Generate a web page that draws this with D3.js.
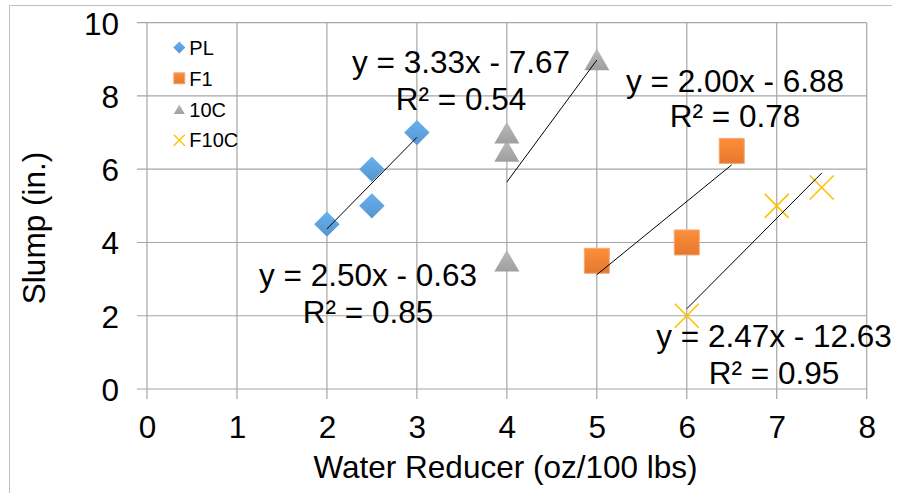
<!DOCTYPE html>
<html>
<head>
<meta charset="utf-8">
<script src="https://cdn.jsdelivr.net/npm/d3@7"></script>
<style>
  html, body { margin: 0; padding: 0; background: #fff; }
  svg { display: block; font-family: "Liberation Sans", Arial, sans-serif; }
</style>
</head>
<body>
<svg id="chart" width="901" height="493"></svg>
<script>
// Slump vs. water reducer dosage, four mixes with linear trendlines
const seriesNames = ["PL", "F1", "10C", "F10C"];
const seriesColors = ["#5B9BD5", "#ED7D31", "#A5A5A5", "#FFC000"];

const plX = [2, 2.5, 2.5, 3];
const plY = [4.5, 5, 6, 7];
const f1X = [5, 6, 6.5];
const f1Y = [3.5, 4, 6.5];
const c10X = [4, 4, 4, 5];
const c10Y = [3.5, 6.5, 7, 9];
const f10cX = [6, 7, 7.5];
const f10cY = [2, 5, 5.5];

// Trendline coefficients (y = slope * x + intercept) and R²
const slopes = [2.50, 2.00, 3.33, 2.47];
const intercepts = [-0.63, -6.88, -7.67, -12.63];
const rSquared = [0.85, 0.78, 0.54, 0.95];

const xTicks = [0, 1, 2, 3, 4, 5, 6, 7, 8];
const yTicks = [0, 2, 4, 6, 8, 10];

const seriesX = [plX, f1X, c10X, f10cX];
const seriesY = [plY, f1Y, c10Y, f10cY];

const svg = d3.select("#chart");
const plotLeft = 147, plotRight = 866.7, plotTop = 22.7, plotBottom = 389;

const x = d3.scaleLinear().domain([0, 8]).range([plotLeft, plotRight]);
const y = d3.scaleLinear().domain([0, 10]).range([plotBottom, plotTop]);

const gridColor = "#A6A6A6";
const fontSize = 31.5;

// chart frame
svg.append("path")
  .attr("d", `M9.5,493 V5.5 H891.7`)
  .attr("fill", "none").attr("stroke", "#BFBFBF").attr("stroke-width", 1);

// gradients for markers
const defs = svg.append("defs");
seriesColors.forEach((c, i) => {
  const g = defs.append("linearGradient").attr("id", "grad" + i)
    .attr("x1", 0).attr("y1", 0).attr("x2", 0).attr("y2", 1);
  g.append("stop").attr("offset", "0%").attr("stop-color", d3.color(c).brighter(0.35));
  g.append("stop").attr("offset", "100%").attr("stop-color", d3.color(c).darker(0.12));
});

// gridlines
svg.append("g").selectAll("line").data(xTicks).join("line")
  .attr("x1", d => x(d)).attr("x2", d => x(d))
  .attr("y1", plotTop).attr("y2", plotBottom + 10)
  .attr("stroke", gridColor).attr("stroke-width", 1.2);
svg.append("g").selectAll("line").data(yTicks).join("line")
  .attr("x1", plotLeft - 10).attr("x2", plotRight)
  .attr("y1", d => y(d)).attr("y2", d => y(d))
  .attr("stroke", gridColor).attr("stroke-width", 1.2);

// tick labels via d3 axis generators (lines drawn above)
const xAxis = svg.append("g").attr("transform", `translate(0,${plotBottom})`)
  .call(d3.axisBottom(x).tickValues(xTicks).tickSize(0).tickPadding(0).tickFormat(d3.format("d")));
xAxis.select(".domain").remove();
xAxis.selectAll("text").attr("y", 49.3).attr("dy", null)
  .attr("font-size", fontSize).attr("fill", "#000").attr("font-family", "Liberation Sans, Arial, sans-serif");

const yAxis = svg.append("g").attr("transform", `translate(${plotLeft},0)`)
  .call(d3.axisLeft(y).tickValues(yTicks).tickSize(0).tickPadding(0).tickFormat(d3.format("d")));
yAxis.select(".domain").remove();
yAxis.selectAll("text").attr("x", -28).attr("dy", "0.36em")
  .attr("font-size", fontSize).attr("fill", "#000").attr("font-family", "Liberation Sans, Arial, sans-serif");

// axis titles
svg.append("text").attr("x", 505.5).attr("y", 478).attr("text-anchor", "middle")
  .attr("font-size", fontSize).text("Water Reducer (oz/100 lbs)");
svg.append("text").attr("transform", "translate(45,228) rotate(-90)")
  .attr("text-anchor", "middle").attr("font-size", fontSize).text("Slump (in.)");

// marker shapes
function markerPath(kind, s) {
  if (kind === 0) return `M0,${-s} L${s},0 L0,${s} L${-s},0 Z`;           // diamond
  if (kind === 1) return `M${-s},${-s} H${s} V${s} H${-s} Z`;              // square
  if (kind === 2) { const h = s * 1.732; return `M0,${-h / 2} L${s},${h / 2} L${-s},${h / 2} Z`; } // triangle
  return `M${-s},${-s} L${s},${s} M${s},${-s} L${-s},${s}`;                // cross
}
const markerHalf = [12.7, 12.5, 12.5, 12];

function drawMarker(g, kind, cx, cy, s) {
  const p = g.append("path").attr("d", markerPath(kind, s))
    .attr("transform", `translate(${cx},${cy})`);
  if (kind === 3) {
    p.attr("fill", "none").attr("stroke", seriesColors[kind]).attr("stroke-width", s > 8 ? 1.6 : 1.3);
  } else {
    p.attr("fill", `url(#grad${kind})`);
    if (kind === 1) p.attr("stroke", "#F4A876").attr("stroke-width", 1);
  }
}

// data points
const pts = svg.append("g");
seriesX.forEach((xs, i) => {
  xs.forEach((xv, j) => drawMarker(pts, i, x(xv), y(seriesY[i][j]), markerHalf[i]));
});

// trendlines from stated equations over each series' x range
const lines = svg.append("g");
seriesX.forEach((xs, i) => {
  const [x0, x1] = d3.extent(xs);
  lines.append("line")
    .attr("x1", x(x0)).attr("y1", y(slopes[i] * x0 + intercepts[i]))
    .attr("x2", x(x1)).attr("y2", y(slopes[i] * x1 + intercepts[i]))
    .attr("stroke", "#000").attr("stroke-width", 1);
});

// trendline equation labels
const labelPos = [[368, 286, 323.3], [735, 91.7, 127.3], [461, 72.7, 110], [774, 346.7, 384]];
const fmt = d3.format(".2f");
seriesX.forEach((xs, i) => {
  const [cx, y1, y2] = labelPos[i];
  const sign = intercepts[i] < 0 ? "-" : "+";
  svg.append("text").attr("x", cx).attr("y", y1).attr("text-anchor", "middle")
    .attr("font-size", fontSize)
    .text(`y = ${fmt(slopes[i])}x ${sign} ${fmt(Math.abs(intercepts[i]))}`);
  svg.append("text").attr("x", cx).attr("y", y2).attr("text-anchor", "middle")
    .attr("font-size", fontSize)
    .text(`R² = ${fmt(rSquared[i])}`);
});

// legend
const legendRows = [47.5, 78.3, 109.3, 140.2];
const legend = svg.append("g");
seriesNames.forEach((name, i) => {
  drawMarker(legend, i, 179.3, legendRows[i], i === 0 ? 6 : 5.5);
  legend.append("text").attr("x", 189.3).attr("y", legendRows[i]).attr("dy", "0.36em")
    .attr("font-size", 20).text(name);
});
</script>
</body>
</html>
